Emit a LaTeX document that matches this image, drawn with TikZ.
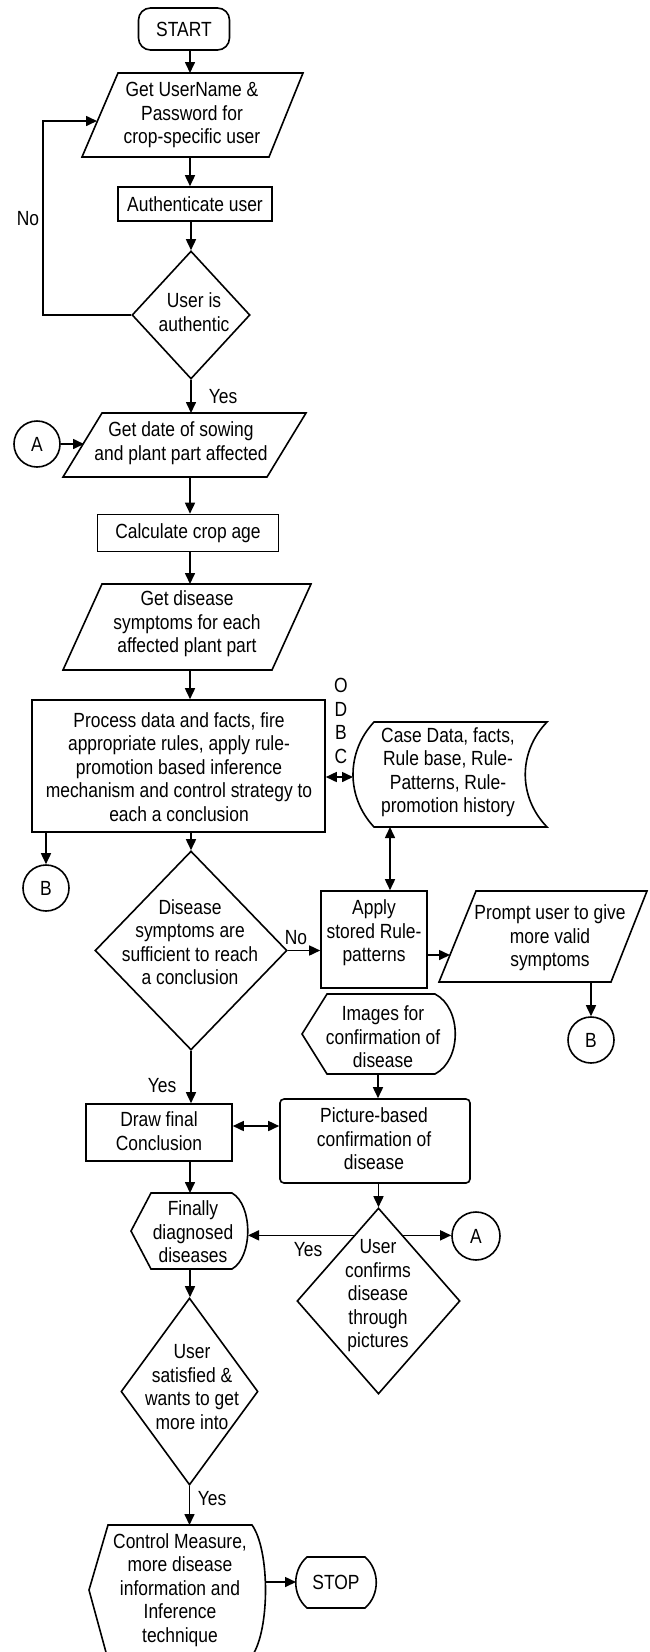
\documentclass[tikz,border=0pt]{standalone}
\usepackage{fontspec}
\setmainfont{Liberation Sans}[FakeStretch=0.85]
\usetikzlibrary{arrows.meta,shapes.geometric,calc}
\newcommand\dfont{\fontsize{20.5}{23.5}\selectfont}
\begin{document}
\begin{tikzpicture}[x=1pt,y=-1pt,
  lw/.style={line width=1.6pt},
  shp/.style={draw, lw, inner sep=0pt, font=\dfont},
  boxs/.style 2 args={shp, rectangle, minimum width=#1pt, minimum height=#2pt},
  dia/.style 2 args={shp, diamond, minimum width=#1pt, minimum height=#2pt},
  conn/.style={shp, circle, minimum size=#1pt},
  txt/.style={align=center, font=\dfont, inner sep=0pt},
  arr/.style={lw, -{Triangle[length=11pt,width=10pt]}},
  darr/.style={lw, {Triangle[length=11pt,width=10pt]}-{Triangle[length=11pt,width=10pt]}},
  lbl/.style={font=\dfont, inner sep=0pt},
]
\useasboundingbox (0,0) rectangle (650,1652);

% ---------- START
\node[shp, rounded corners=12pt, minimum width=91pt, minimum height=42pt] (start) at (184,29) {START};

% ---------- Para 1
\draw[lw] (118,73) -- (303,73) -- (269,157) -- (82,157) -- cycle;
\coordinate (p1top) at (190,73);
\coordinate (p1bot) at (190,157);
\coordinate (p1in) at (97,121);
\node[txt] (tp1) at (192,115) {Get UserName \&\\Password for\\crop-specific user};

% ---------- Authenticate
\node[boxs={154}{34}] (auth) at (195,204) {Authenticate user};

% ---------- Diamond 1
\node[dia={118}{128}] (d1) at (191,315) {};
\node[txt] (td1) at (194,312) {User is\\authentic};
\coordinate (nocorner) at (43,121);

% ---------- Para 2
\draw[lw] (102,413) -- (306,413) -- (267,477) -- (63,477) -- cycle;
\coordinate (p2top) at (190,413);
\coordinate (p2bot) at (190,477);
\coordinate (p2in) at (84,444);
\node[txt] (tp2) at (181,443) {Get date of sowing\\and plant part affected};
\node[conn=46] (a1) at (37,444) {A};

% ---------- Calculate
\node[boxs={181}{37}] (calc) at (188,533) {Calculate crop age};

% ---------- Para 3
\draw[lw] (102,584) -- (311,584) -- (272,670) -- (63,670) -- cycle;
\coordinate (p3top) at (190,584);
\coordinate (p3bot) at (190,670);
\node[txt] (tp3) at (187,624) {Get disease\\symptoms for each\\affected plant part};

% ---------- Process
\node[boxs={293}{132}] (proc) at (178.5,766) {};
\node[txt] (tproc) at (179,767) {Process data and facts, fire\\appropriate rules, apply rule-\\promotion based inference\\mechanism and control strategy to\\each a conclusion};
\node[txt] (odbc) at (341,721) {O\\D\\B\\C};

% ---------- Storage
\draw[lw] (374,722) -- (547,722) .. controls (518,752) and (518,797) .. (547,827)
  -- (374,827) .. controls (346,797) and (346,752) .. (374,722) -- cycle;
\coordinate (stL) at (353,777);
\coordinate (stB) at (390,827);
\node[txt] (tst) at (448,772) {Case Data, facts,\\Rule base, Rule-\\Patterns, Rule-\\promotion history};

% ---------- B1
\node[conn=46] (b1) at (46,888) {B};

% ---------- Diamond 2
\node[dia={192}{199}] (d2) at (191,950.5) {};
\node[txt] (td2) at (190,942) {Disease\\symptoms are\\sufficient to reach\\a conclusion};

% ---------- Apply
\node[boxs={106}{97}] (apply) at (374,939.5) {};
\node[txt] (tapply) at (374,933) {Apply\\stored Rule-\\patterns};

% ---------- Prompt
\draw[lw] (476,891) -- (647,891) -- (611,982) -- (439,982) -- cycle;
\coordinate (prIn) at (450,955);
\coordinate (prBot) at (591,982);
\node[txt] (tpr) at (550,938) {Prompt user to give\\more valid\\symptoms};
\node[conn=46] (b2) at (591,1040) {B};

% ---------- Images
\draw[lw] (302,1034) -- (327,994) -- (435,994) .. controls (462,1008) and (462,1060) .. (435,1074) -- (327,1074) -- cycle;
\coordinate (imBot) at (378,1074);
\node[txt] (tim) at (383,1037) {Images for\\confirmation of\\disease};

% ---------- Picture-based
\node[boxs={190}{84}, rounded corners=4pt] (pic) at (375,1141) {};
\node[txt] (tpic) at (374,1139) {Picture-based\\confirmation of\\disease};

% ---------- Draw final
\node[boxs={146}{57}] (dfc) at (159,1132.5) {};
\node[txt] (tdfc) at (159,1131) {Draw final\\Conclusion};
\coordinate (dc) at ([yshift=6.5pt]dfc.east);

% ---------- Finally diagnosed
\draw[lw] (131,1231) -- (151,1193) -- (232,1193) .. controls (253,1205) and (253,1257) .. (232,1269) -- (151,1269) -- cycle;
\coordinate (fTop) at (190,1193);
\coordinate (fBot) at (190,1269);
\coordinate (fR) at (248,1236);
\node[txt] (tfin) at (193,1232) {Finally\\diagnosed\\diseases};

% ---------- Diamond 3
\node[dia={163}{186}] (d3) at (378.5,1301) {};
\node[txt] (td3) at (378,1296) {User\\confirms\\disease\\through\\pictures};
\coordinate (d3L) at ($(d3.north)!0.3!(d3.west)$);
\coordinate (d3R) at ($(d3.north)!0.3!(d3.east)$);
\node[conn=48] (a2) at (476,1236) {A};

% ---------- Diamond 4
\node[dia={137}{187}] (d4) at (189.5,1391.5) {};
\node[txt] (td4) at (192,1387) {User\\satisfied \&\\wants to get\\more into};

% ---------- Control measure
\draw[lw] (107,1656) -- (89,1590) -- (108,1525) -- (252,1525) .. controls (270,1550) and (270,1630) .. (252,1656);
\coordinate (ctTop) at (190,1525);
\coordinate (ctR) at (265,1582);
\node[txt] (tct) at (180,1590) {Control Measure,\\more disease\\information and\\Inference\\technique};

% ---------- STOP
\draw[lw] (307,1557) -- (365,1557) .. controls (380,1570) and (380,1595) .. (365,1608) -- (307,1608) .. controls (292,1595) and (292,1570) .. (307,1557) -- cycle;
\coordinate (stopL) at (296,1582);
\node[txt] (tstop) at (336,1582) {STOP};

% ---------- Connectors
\draw[arr] (start.south -| p1top) -- (p1top);
\draw[arr] (p1bot) -- (p1bot |- auth.north);
\draw[arr] (auth.south -| d1.north) -- (d1.north);
\draw[arr] (d1.west) -| (nocorner) -- (p1in);
\node[lbl] (lno1) at (28,219) {No};
\draw[arr] (d1.south) -- (d1.south |- p2top);
\node[lbl] (lyes1) at (223,397) {Yes};
\draw[arr] (a1.east) -- (p2in);
\draw[arr] (p2bot) -- (p2bot |- calc.north);
\draw[arr] (calc.south -| p3top) -- (p3top);
\draw[arr] (p3bot) -- (p3bot |- proc.north);
\draw[darr] (proc.east |- stL) -- (stL);
\draw[darr] (stB) -- (stB |- apply.north);
\draw[arr] (proc.south -| b1.north) -- (b1.north);
\draw[arr] (proc.south -| d2.north) -- (d2.north);
\draw[arr] (d2.east) -- (d2.east -| apply.west);
\node[lbl] (lno2) at (296,938) {No};
\draw[arr] (apply.east |- prIn) -- (prIn);
\draw[arr] (prBot) -- (b2.north);
\draw[arr] (imBot) -- (imBot |- pic.north);
\draw[arr] (d2.south) -- (d2.south |- dfc.north);
\node[lbl] (lyes2) at (162,1086) {Yes};
\draw[darr] (dc) -- (dc -| pic.west);
\draw[arr] (dfc.south -| fTop) -- (fTop);
\draw[arr] (pic.south -| d3.north) -- (d3.north);
\draw[arr] (d3L) -- (fR |- d3L);
\node[lbl] (lyes3) at (308,1250) {Yes};
\draw[arr] (d3R) -- (d3R -| a2.west);
\draw[arr] (fBot) -- (fBot |- d4.north);
\draw[arr] (d4.south) -- (d4.south |- ctTop);
\node[lbl] (lyes4) at (212,1499) {Yes};
\draw[arr] (ctR) -- (stopL);
\end{tikzpicture}
\end{document}
